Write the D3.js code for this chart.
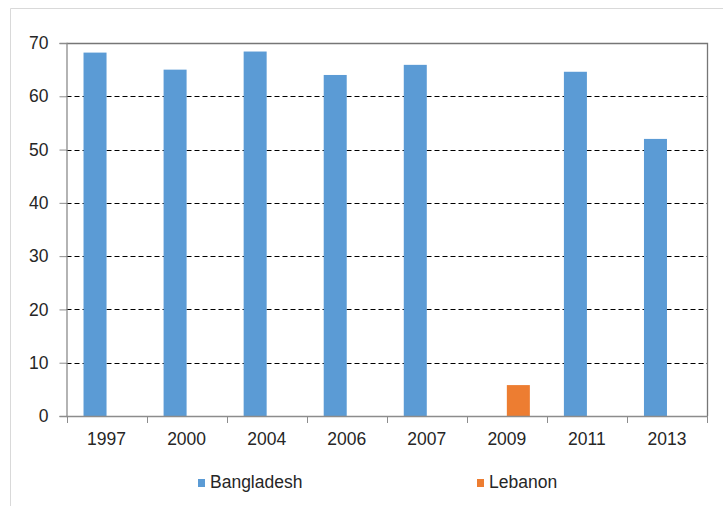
<!DOCTYPE html>
<html><head><meta charset="utf-8">
<script src="https://cdn.jsdelivr.net/npm/d3@7"></script>
<style>body{margin:0;background:#fff}svg{display:block}text{font-family:"Liberation Sans",Arial,sans-serif;fill:#262626}</style>
</head><body><svg id="c" width="723" height="506"></svg>
<script>
const categories = ["1997","2000","2004","2006","2007","2009","2011","2013"];
const seriesNames = ["Bangladesh","Lebanon"];
const bangladesh = [68.2, 65.0, 68.4, 64.0, 65.9, null, 64.6, 52.0];
const lebanon = [null, null, null, null, null, 5.8, null, null];
const yTicks = [0,10,20,30,40,50,60,70];
const colors = ["#5B9BD5","#ED7D31"];

const svg = d3.select("#c");
const m = {l:66.5, r:707, t:43, b:416};
// outer border
svg.append("path").attr("d","M10.5,506 V8.5 H723").attr("fill","none").attr("stroke","#d9d9d9").attr("stroke-width",1);

const x0 = d3.scaleBand().domain(categories).range([m.l,m.r]).paddingInner(0).paddingOuter(0);
const x1 = d3.scaleBand().domain(seriesNames).range([0,x0.bandwidth()]).paddingInner(0).paddingOuter(0.74);
const y = d3.scaleLinear().domain([0,70]).range([m.b,m.t]);

// gridlines
svg.append("g").selectAll("line").data(yTicks.filter(d=>d>0&&d<70)).join("line")
  .attr("x1",m.l).attr("x2",m.r).attr("y1",d=>Math.round(y(d))+0.5).attr("y2",d=>Math.round(y(d))+0.5)
  .attr("stroke","#000").attr("stroke-width",1).attr("stroke-dasharray","5,3");

// bars
const data = [bangladesh, lebanon];
data.forEach((vals,si)=>{
  svg.append("g").selectAll("rect").data(categories.map((c,i)=>({c,v:vals[i]})).filter(d=>d.v!=null)).join("rect")
    .attr("x",d=>x0(d.c)+x1(seriesNames[si])).attr("width",x1.bandwidth())
    .attr("y",d=>y(d.v)).attr("height",d=>y(0)-y(d.v)).attr("fill",colors[si]);
});

// plot border (top, right) and axes
svg.append("path").attr("d",`M${m.l},${m.t+0.5} H${m.r+0.5} V${m.b}`).attr("fill","none").attr("stroke","#767676").attr("stroke-width",1.3);

const yAxis = d3.axisLeft(y).tickValues(yTicks).tickSize(7).tickPadding(11);
const gy = svg.append("g").attr("transform",`translate(${m.l},0)`).call(yAxis);
gy.select(".domain").attr("stroke","#8c8c8c").attr("stroke-width",1.3);
gy.selectAll(".tick line").attr("stroke","#8c8c8c");
gy.selectAll("text").attr("font-size",17.5).attr("fill","#262626").attr("font-family","Liberation Sans, Arial, sans-serif");

const xAxis = d3.axisBottom(x0).tickSize(0).tickPadding(17);
const gx = svg.append("g").attr("transform",`translate(0,${m.b})`).call(xAxis);
gx.select(".domain").remove();
gx.selectAll("text").attr("font-size",17.5).attr("fill","#262626").attr("font-family","Liberation Sans, Arial, sans-serif");
svg.append("line").attr("x1",m.l).attr("x2",m.r+0.5).attr("y1",m.b+0.5).attr("y2",m.b+0.5).attr("stroke","#8c8c8c").attr("stroke-width",1.3);
const bounds = categories.map(c=>x0(c)).concat([m.r]);
svg.append("g").selectAll("line").data(bounds).join("line")
  .attr("x1",d=>Math.round(d)+0.5).attr("x2",d=>Math.round(d)+0.5).attr("y1",m.b).attr("y2",m.b+7)
  .attr("stroke","#8c8c8c").attr("stroke-width",1);

// legend
const legX = [198, 477];
seriesNames.forEach((s,i)=>{
  const g = svg.append("g").attr("transform",`translate(${legX[i]},0)`);
  g.append("rect").attr("x",0).attr("y",479).attr("width",7).attr("height",8).attr("fill",colors[i]);
  g.append("text").attr("x",12).attr("y",488).attr("font-size",17.5).text(s);
});
</script></body></html>
